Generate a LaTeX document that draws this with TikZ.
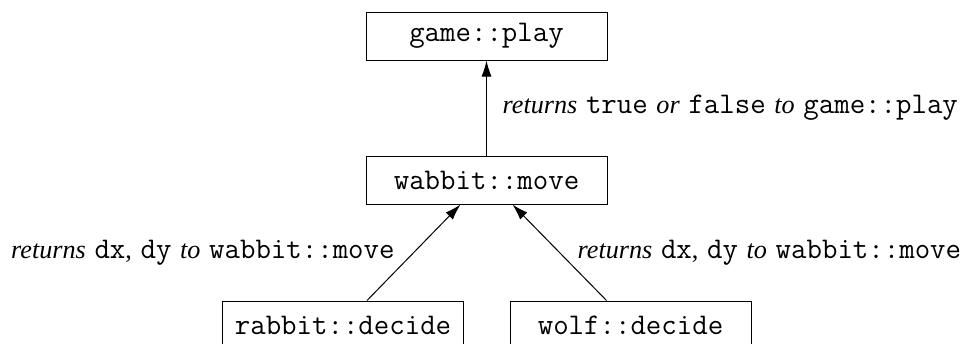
\documentclass[tikz,border=0pt]{standalone}
\usepackage{fontspec}
\setmainfont{Liberation Serif}
\setmonofont{Latin Modern Mono}[Scale=1.145]
\usepackage{tikz}
\usetikzlibrary{arrows.meta,positioning}

\tikzset{
    func/.style={rectangle, draw, line width=0.5pt, minimum width=120.5pt, minimum height=24pt, font=\fontsize{13.1}{16}\selectfont\ttfamily},
    ret/.style={-{Latex[length=8pt,width=5pt]}, line width=0.5pt},
    note/.style={execute at begin node={\spaceskip=0.33em\relax}}
}

\begin{document}
\begin{tikzpicture}[x=0.5pt, y=0.5pt, font=\fontsize{13.1}{16}\selectfont]
    \useasboundingbox (0,0) rectangle (962,-343);

    \node (game) [func] at (486.5,-36) {game::play};
    \node (wabbit) [func, below=47.5pt of game] {wabbit::move};
    \node (rabbit) [func, below=48pt of wabbit, xshift=-71.75pt] {rabbit::decide};
    \node (wolf) [func, below=48pt of wabbit, xshift=72pt] {wolf::decide};

    \draw [ret] (wabbit) -- node[note, right, xshift=4.5pt] {\textit{returns} \texttt{true} \textit{or} \texttt{false} \textit{to} \texttt{game::play}} (game);
    \draw [ret] ([xshift=12pt]rabbit.north) -- node[note, left, xshift=-6pt] {\textit{returns} \texttt{dx}, \texttt{dy} \textit{to} \texttt{wabbit::move}} ([xshift=-13pt]wabbit.south);
    \draw [ret] ([xshift=-12pt]wolf.north) -- node[note, right, xshift=5.5pt] {\textit{returns} \texttt{dx}, \texttt{dy} \textit{to} \texttt{wabbit::move}} ([xshift=13pt]wabbit.south);
\end{tikzpicture}
\end{document}
